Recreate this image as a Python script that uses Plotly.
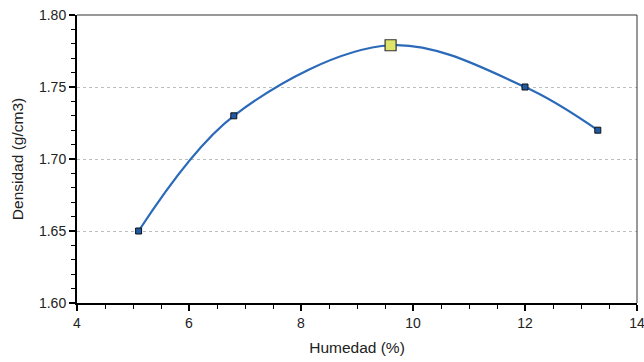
import plotly.graph_objects as go

humedad = [5.1, 6.8, 12.0, 13.3]
densidad = [1.65, 1.73, 1.75, 1.72]
max_h = [9.6]
max_d = [1.779]

curve_x = [5.1, 6.8, 9.6, 12.0, 13.3]
curve_y = [1.65, 1.73, 1.779, 1.75, 1.72]

fig = go.Figure()
fig.add_trace(go.Scatter(x=curve_x, y=curve_y, mode="lines",
                         line=dict(color="#2a6ab8", width=2.2, shape="spline", smoothing=1.0),
                         hoverinfo="skip", showlegend=False))
fig.add_trace(go.Scatter(x=humedad, y=densidad, mode="markers",
                         marker=dict(symbol="square", size=6, color="#1f5aa6",
                                     line=dict(color="#111111", width=1)),
                         showlegend=False))
fig.add_trace(go.Scatter(x=max_h, y=max_d, mode="markers",
                         marker=dict(symbol="square", size=11, color="#dde468",
                                     line=dict(color="#333333", width=1.2)),
                         showlegend=False))

tickfnt = dict(family="Liberation Sans, Arial, sans-serif", size=14, color="#222222")
titlefnt = dict(family="Liberation Sans, Arial, sans-serif", size=15.5, color="#222222")
fig.update_layout(
    width=644, height=362,
    margin=dict(l=77, r=7, t=15, b=59, autoexpand=False),
    paper_bgcolor="white", plot_bgcolor="white",
    font=tickfnt,
    xaxis=dict(range=[4, 14], dtick=2, showgrid=False, zeroline=False, automargin=False,
               showline=True, linecolor="black", linewidth=2,
               ticks="outside", ticklen=6, tickwidth=1.5, tickcolor="black",
               ticklabeloverflow="allow",
               minor=dict(dtick=0.5, ticks="outside", ticklen=4, tickcolor="black", tickwidth=1),
               title=dict(text="Humedad (%)", font=titlefnt, standoff=12),
               tickfont=tickfnt),
    yaxis=dict(range=[1.60, 1.80], dtick=0.05, tickformat=".2f", zeroline=False, automargin=False,
               showgrid=True, gridcolor="#bdbdbd", griddash="3px,3px", gridwidth=1,
               showline=True, linecolor="black", linewidth=2,
               ticks="outside", ticklen=6, tickwidth=1.5, tickcolor="black",
               ticklabeloverflow="allow",
               minor=dict(dtick=0.01, ticks="outside", ticklen=4, tickcolor="black", tickwidth=1, showgrid=False),
               title=dict(text="Densidad (g/cm3)", font=titlefnt, standoff=12),
               tickfont=tickfnt),
    shapes=[
        dict(type="line", xref="paper", yref="paper", x0=0, x1=1, y0=1, y1=1,
             line=dict(color="#333333", width=1)),
        dict(type="line", xref="paper", yref="paper", x0=1, x1=1, y0=0, y1=1,
             line=dict(color="#333333", width=1)),
    ],
)
fig.write_html("out.html")
